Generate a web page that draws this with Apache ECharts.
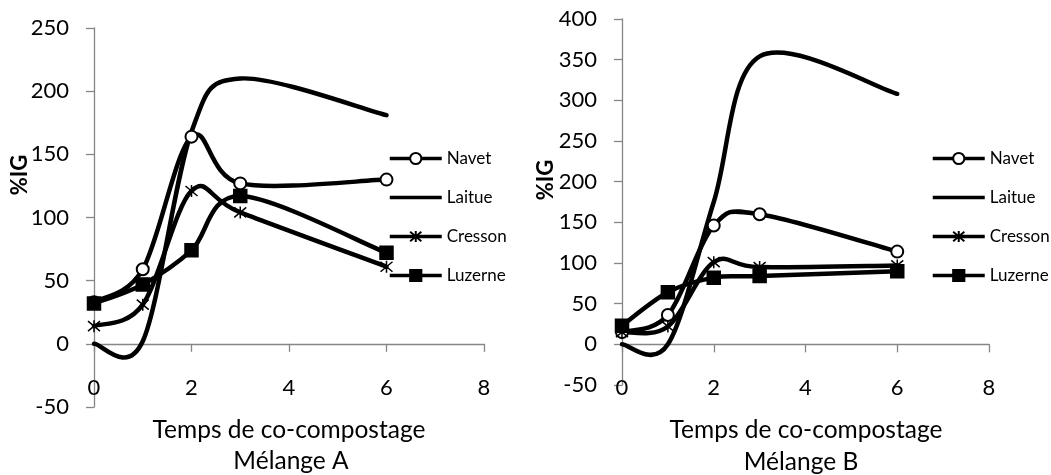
<!DOCTYPE html>
<html>
<head>
<meta charset="utf-8">
<script src="https://cdn.jsdelivr.net/npm/echarts@6/dist/echarts.min.js"></script>
<style>
html,body{margin:0;padding:0;background:#fff;}
#c{width:1051px;height:475px;}
</style>
</head>
<body>
<div id="c"></div>
<script>
// Days of co-composting
const times = [0, 1, 2, 3, 6];
const seriesNames = ['Navet', 'Laitue', 'Cresson', 'Luzerne'];
const xTicks = [0, 2, 4, 6, 8];

// Mélange A (%IG)
const navetA   = [33, 59, 164, 127, 130];
const laitueA  = [0, 2, 168, 210, 181];
const cressonA = [14, 31, 121, 104, 61];
const luzerneA = [32, 47, 74, 117, 72];

// Mélange B (%IG)
const navetB   = [15, 36, 146, 160, 114];
const laitueB  = [0, 0, 175, 354, 308];
const cressonB = [15, 22, 101, 95, 97];
const luzerneB = [23, 64, 82, 84, 90];

const FONT = 'Lato';
const AXIS_COLOR = '#868686';
const ASTERISK = 'path://M0 0L10 10M10 0L0 10M5 -1L5 11';

const markerStyle = {
  Navet:   { symbol: 'emptyCircle', symbolSize: 12 },
  Laitue:  { symbol: 'none', symbolSize: 0 },
  Cresson: { symbol: ASTERISK, symbolSize: 12 },
  Luzerne: { symbol: 'rect', symbolSize: 13 }
};

function pairs(vals) { return times.map((t, i) => [t, vals[i]]); }

// Smoothed curve (Excel-like Catmull-Rom Bezier) drawn through the axes' scales
function curveSeries(name, vals, xIdx, yIdx) {
  return {
    name: name + ' (courbe)',
    type: 'custom',
    xAxisIndex: xIdx,
    yAxisIndex: yIdx,
    data: [[times[0], vals[0]]],
    silent: true,
    animation: false,
    renderItem: function (params, api) {
      const pts = times.map((t, i) => api.coord([t, vals[i]]));
      const n = pts.length;
      let d = 'M' + pts[0][0] + ' ' + pts[0][1];
      for (let i = 0; i < n - 1; i++) {
        const p0 = pts[Math.max(i - 1, 0)], p1 = pts[i], p2 = pts[i + 1], p3 = pts[Math.min(i + 2, n - 1)];
        const c1x = p1[0] + (p2[0] - p0[0]) / 6, c1y = p1[1] + (p2[1] - p0[1]) / 6;
        const c2x = p2[0] - (p3[0] - p1[0]) / 6, c2y = p2[1] - (p3[1] - p1[1]) / 6;
        d += ' C' + c1x + ' ' + c1y + ' ' + c2x + ' ' + c2y + ' ' + p2[0] + ' ' + p2[1];
      }
      return {
        type: 'path',
        shape: { pathData: d },
        style: { fill: 'none', stroke: '#000', lineWidth: 4.5, lineJoin: 'round', lineCap: 'round' }
      };
    }
  };
}

function markerSeries(name, vals, xIdx, yIdx) {
  return {
    name: name,
    type: 'line',
    xAxisIndex: xIdx,
    yAxisIndex: yIdx,
    data: pairs(vals),
    symbol: markerStyle[name].symbol,
    symbolSize: markerStyle[name].symbolSize,
    showSymbol: true,
    lineStyle: { color: '#000', width: 4.5, opacity: 0 },
    itemStyle: { color: '#000', borderColor: '#000', borderWidth: 1.5 },
    emphasis: { disabled: true },
    animation: false
  };
}

const grids = [
  { left: 94, top: 28, width: 390, height: 379 },
  { left: 622, top: 19, width: 367, height: 366 }
];

function zeroXAxis(g) {
  return {
    gridIndex: g, type: 'value', min: xTicks[0], max: xTicks[xTicks.length - 1], interval: 2,
    position: 'bottom',
    axisLine: { show: true, onZero: true, lineStyle: { color: AXIS_COLOR, width: 1.3 } },
    axisTick: { show: true, length: 8, lineStyle: { color: AXIS_COLOR, width: 1.3 } },
    axisLabel: { show: false },
    splitLine: { show: false }
  };
}
function labelXAxis(g, off) {
  return {
    gridIndex: g, type: 'value', min: xTicks[0], max: xTicks[xTicks.length - 1], interval: 2,
    position: 'bottom', offset: off,
    axisLine: { show: false, onZero: false },
    axisTick: { show: false },
    axisLabel: { show: true, margin: 0, fontSize: 22, fontFamily: FONT, color: '#000' },
    splitLine: { show: false }
  };
}
function yAx(g, max) {
  return {
    gridIndex: g, type: 'value', min: -50, max: max, interval: 50,
    axisLine: { show: true, lineStyle: { color: AXIS_COLOR, width: 1.3 } },
    axisTick: { show: true, length: 8, lineStyle: { color: AXIS_COLOR, width: 1.3 } },
    axisLabel: { fontSize: 22, fontFamily: FONT, color: '#000', margin: 25 },
    splitLine: { show: false }
  };
}

function legendFor(left) {
  return {
    orient: 'vertical', left: left, top: 145,
    itemWidth: 52, itemHeight: 14, itemGap: 22,
    selectedMode: false,
    lineStyle: { width: 3.5, opacity: 1, color: '#000' },
    textStyle: { fontSize: 17, fontFamily: FONT, color: '#000' },
    data: [
      { name: 'Navet' },
      { name: 'Laitue', itemStyle: { opacity: 0 } },
      { name: 'Cresson' },
      { name: 'Luzerne' }
    ]
  };
}

const titleFont = { fontSize: 24.5, fontFamily: FONT, fill: '#000' };

const allSeries = [];
[[navetA, laitueA, cressonA, luzerneA, 0, 0], [navetB, laitueB, cressonB, luzerneB, 2, 1]].forEach(function (set) {
  const xIdx = set[4], yIdx = set[5];
  seriesNames.forEach(function (nm, k) {
    allSeries.push(curveSeries(nm, set[k], xIdx, yIdx));
    allSeries.push(markerSeries(nm, set[k], xIdx, yIdx));
  });
});

const option = {
  backgroundColor: '#fff',
  animation: false,
  grid: grids,
  xAxis: [zeroXAxis(0), labelXAxis(0, -30), zeroXAxis(1), labelXAxis(1, -8)],
  yAxis: [yAx(0, 250), yAx(1, 400)],
  legend: [legendFor(383), legendFor(926)],
  series: allSeries,
  graphic: [
    { type: 'text', x: 20, y: 175, rotation: Math.PI / 2,
      style: { text: '%IG', align: 'center', verticalAlign: 'middle', fontSize: 22, fontWeight: 'bold', fontFamily: FONT, fill: '#000' } },
    { type: 'text', x: 546, y: 180, rotation: Math.PI / 2,
      style: { text: '%IG', align: 'center', verticalAlign: 'middle', fontSize: 22, fontWeight: 'bold', fontFamily: FONT, fill: '#000' } },
    { type: 'text', x: 289, y: 430, style: Object.assign({ text: 'Temps de co-compostage', align: 'center', verticalAlign: 'middle' }, titleFont) },
    { type: 'text', x: 291, y: 461, style: Object.assign({ text: 'Mélange A', align: 'center', verticalAlign: 'middle' }, titleFont) },
    { type: 'text', x: 806, y: 430, style: Object.assign({ text: 'Temps de co-compostage', align: 'center', verticalAlign: 'middle' }, titleFont) },
    { type: 'text', x: 801, y: 462, style: Object.assign({ text: 'Mélange B', align: 'center', verticalAlign: 'middle' }, titleFont) }
  ]
};

const chart = echarts.init(document.getElementById('c'), null, { renderer: 'canvas' });
chart.setOption(option);
</script>
</body>
</html>
